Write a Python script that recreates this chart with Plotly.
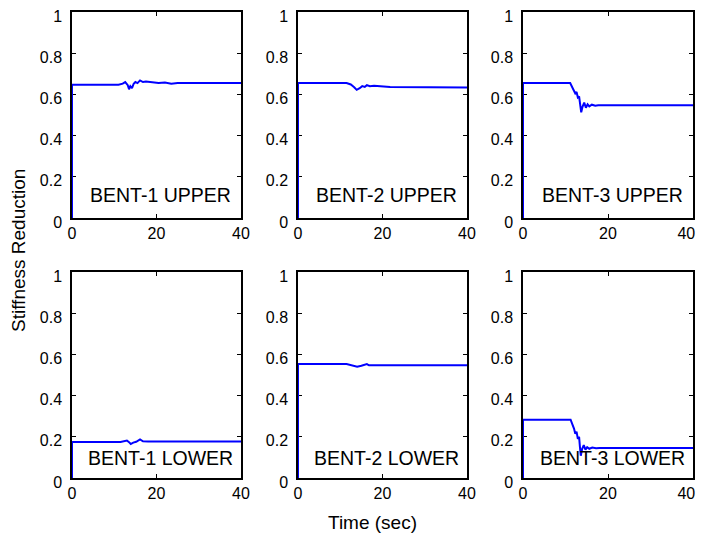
import plotly.graph_objects as go

# ---- data ----
titles = ["BENT-1 UPPER", "BENT-2 UPPER", "BENT-3 UPPER",
          "BENT-1 LOWER", "BENT-2 LOWER", "BENT-3 LOWER"]

t_b1u = [0, 0, 11.0, 12.0, 12.6, 13.2, 13.5, 13.8, 14.2, 14.6, 15.0, 15.5, 16.1, 16.8, 17.5, 19.0, 20.5, 22.0, 23.5, 25.0, 40]
v_b1u = [0, 0.647, 0.647, 0.652, 0.660, 0.645, 0.625, 0.640, 0.630, 0.652, 0.660, 0.655, 0.668, 0.660, 0.662, 0.660, 0.655, 0.658, 0.652, 0.655, 0.655]

t_b2u = [0, 0, 11.5, 12.5, 13.3, 13.9, 14.6, 15.2, 15.8, 16.3, 17.0, 18.0, 19.5, 21.8, 40]
v_b2u = [0, 0.655, 0.655, 0.648, 0.635, 0.622, 0.630, 0.640, 0.636, 0.645, 0.640, 0.642, 0.640, 0.636, 0.634]

t_b3u = [0, 0, 11.1, 11.5, 12.0, 12.3, 12.6, 12.9, 13.2, 13.5, 13.7, 14.0, 14.4, 14.8, 15.2, 15.6, 16.2, 17.0, 17.7, 40]
v_b3u = [0, 0.655, 0.655, 0.640, 0.620, 0.605, 0.612, 0.585, 0.590, 0.545, 0.513, 0.540, 0.560, 0.535, 0.552, 0.542, 0.550, 0.545, 0.547, 0.547]

t_b1l = [0, 0, 11.5, 12.5, 13.0, 13.5, 13.9, 14.5, 15.2, 16.1, 16.8, 18.0, 40]
v_b1l = [0, 0.175, 0.175, 0.178, 0.182, 0.174, 0.165, 0.172, 0.176, 0.187, 0.178, 0.177, 0.177]

t_b2l = [0, 0, 11.5, 12.5, 13.3, 14.0, 15.0, 16.3, 16.8, 40]
v_b2l = [0, 0.553, 0.553, 0.549, 0.545, 0.540, 0.545, 0.553, 0.547, 0.547]

t_b3l = [0, 0, 11.2, 11.6, 12.0, 12.3, 12.6, 12.9, 13.2, 13.4, 13.6, 13.9, 14.3, 14.7, 15.1, 15.6, 16.3, 17.2, 18.0, 40]
v_b3l = [0, 0.283, 0.283, 0.265, 0.240, 0.215, 0.225, 0.190, 0.200, 0.150, 0.108, 0.140, 0.160, 0.138, 0.150, 0.142, 0.148, 0.145, 0.146, 0.146]

series_t = [t_b1u, t_b2u, t_b3u, t_b1l, t_b2l, t_b3l]
series_v = [v_b1u, v_b2u, v_b3u, v_b1l, v_b2l, v_b3l]

x_ticks = [0, 20, 40]
x_ticktext = ["0", "20", "40"]
x_ticktext_right = ["0", "20", "40\u00a0\u00a0\u00a0"]   # rightmost label pulled in, as in the reference
y_ticks = [0, 0.2, 0.4, 0.6, 0.8, 1]
y_ticktext = ["0", "0.2", "0.4", "0.6", "0.8", "1"]

# ---- layout geometry (page pixels; page body has an 8px margin) ----
OFF = 8
W, H = 705 - OFF, 540 - OFF
cols = [(72, 241), (298, 467), (523, 693)]
rows = [(12, 218), (272, 478)]


def px(x):
    return (x - OFF) / W


def py(y):
    return 1 - (y - OFF) / H


FONT = "Liberation Sans, Arial, Helvetica, sans-serif"

fig = go.Figure()
layout = dict(
    template="none",
    width=W, height=H,
    margin=dict(l=0, r=0, t=0, b=0, autoexpand=False),
    paper_bgcolor="white", plot_bgcolor="white",
    showlegend=False,
    font=dict(family=FONT, size=16, color="black"),
)

annotations = []
for i in range(6):
    r, c = divmod(i, 3)
    x0, x1 = cols[c]
    y0, y1 = rows[r]
    ax = "" if i == 0 else str(i + 1)
    layout["xaxis" + ax] = dict(
        domain=[px(x0), px(x1)], range=[0, 40], anchor="y" + ax,
        tickvals=x_ticks, ticktext=x_ticktext_right if c == 2 else x_ticktext,
        ticks="inside", ticklen=4, tickcolor="black",
        showline=True, linecolor="black", linewidth=1.5, mirror="allticks",
        showgrid=False, zeroline=False, automargin=False,
        layer="below traces", ticklabelstandoff=0, ticklabeloverflow="allow",
        tickfont=dict(size=16, family=FONT, color="black"),
    )
    layout["yaxis" + ax] = dict(
        domain=[py(y1), py(y0)], range=[0, 1], anchor="x" + ax,
        tickvals=y_ticks, ticktext=y_ticktext, ticks="inside", ticklen=4,
        tickcolor="black", showline=True, linecolor="black", linewidth=1.5,
        mirror="allticks", showgrid=False, zeroline=False, automargin=False,
        layer="below traces", ticklabelstandoff=5, ticklabelshift=4,
        ticklabeloverflow="allow",
        tickfont=dict(size=16, family=FONT, color="black"),
    )
    fig.add_trace(go.Scatter(
        x=series_t[i], y=series_v[i], mode="lines",
        line=dict(color="#0000ff", width=2),
        xaxis="x" + ax, yaxis="y" + ax, hoverinfo="skip",
    ))
    annotations.append(dict(
        x=21, y=0.11 if r == 0 else 0.097, xref="x" + ax, yref="y" + ax,
        text=titles[i], showarrow=False,
        font=dict(size=19.5, family=FONT, color="black"),
        xanchor="center", yanchor="middle",
    ))

annotations.append(dict(
    x=px(372), y=py(522), xref="paper", yref="paper",
    text="Time (sec)", showarrow=False, font=dict(size=19, family=FONT),
    xanchor="center", yanchor="middle",
))
annotations.append(dict(
    x=px(18), y=py(251), xref="paper", yref="paper",
    text="Stiffness Reduction", showarrow=False, textangle=-90,
    font=dict(size=19, family=FONT), xanchor="center", yanchor="middle",
))
layout["annotations"] = annotations
fig.update_layout(**layout)

fig.write_html("out.html")
